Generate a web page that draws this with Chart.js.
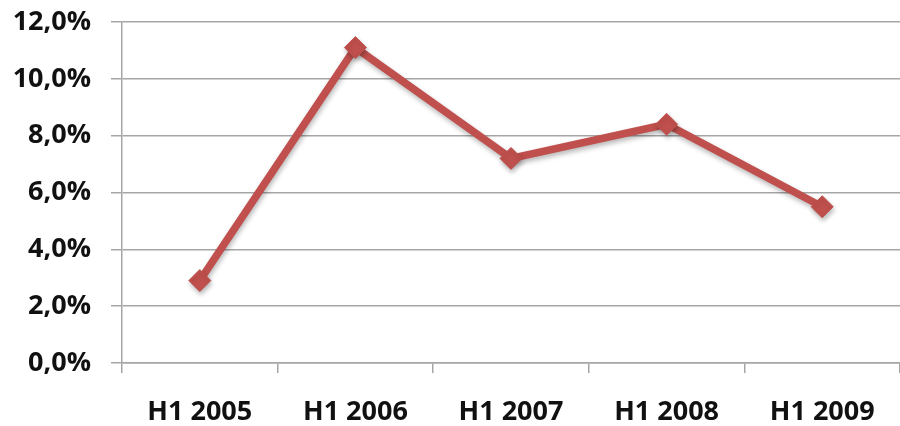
<!DOCTYPE html>
<html>
<head>
<meta charset="utf-8">
<script src="https://cdn.jsdelivr.net/npm/chart.js@4/dist/chart.umd.min.js"></script>
<style>
  html, body { margin: 0; padding: 0; background: #ffffff; overflow: hidden; }
  #wrap { width: 900px; height: 426px; position: relative; }
  canvas { display: block; }
</style>
</head>
<body>
<div id="wrap"><canvas id="chart"></canvas></div>
<script>
// Half-year growth rate, percent
const periods = ['H1 2005', 'H1 2006', 'H1 2007', 'H1 2008', 'H1 2009'];
const growthPct = [2.9, 11.1, 7.2, 8.4, 5.5];
const yMin = 0, yMax = 12, yStep = 2;

const lineRed = '#c0504d';
const gridGray = '#a6a6a6';
const labelFont = { family: '"Open Sans", "Liberation Sans", sans-serif', weight: 'bold', size: 27 };

// soft drop shadow under the series line and markers
const shadowPlugin = {
  id: 'lineShadow',
  beforeDatasetsDraw(chart) {
    const c = chart.ctx;
    c.save();
    c.shadowColor = 'rgba(0,0,0,0.28)';
    c.shadowBlur = 5;
    c.shadowOffsetX = 1;
    c.shadowOffsetY = 3;
  },
  afterDatasetsDraw(chart) {
    chart.ctx.restore();
  }
};

new Chart(document.getElementById('chart'), {
  type: 'line',
  data: {
    labels: periods,
    datasets: [{
      data: growthPct,
      borderColor: lineRed,
      backgroundColor: lineRed,
      borderWidth: 7.5,
      tension: 0,
      pointStyle: 'rectRot',
      pointRadius: 11,
      pointHoverRadius: 11,
      pointBorderWidth: 1,
      pointBorderColor: lineRed,
      pointBackgroundColor: lineRed,
      clip: false
    }]
  },
  options: {
    responsive: true,
    maintainAspectRatio: false,
    animation: false,
    layout: { autoPadding: false, padding: { top: 22, right: 0, left: 0, bottom: 0 } },
    plugins: {
      legend: { display: false },
      tooltip: { enabled: false }
    },
    scales: {
      x: {
        offset: true,
        grid: {
          offset: true,
          drawOnChartArea: false,
          drawTicks: true,
          tickLength: 10,
          color: gridGray,
          lineWidth: 1.5
        },
        border: { display: true, color: gridGray, width: 1.5 },
        ticks: {
          color: '#111111',
          font: labelFont,
          padding: 23,
          maxRotation: 0
        },
        afterFit(scale) {
          scale.height = 63;
        }
      },
      y: {
        min: yMin,
        max: yMax,
        grid: {
          color: gridGray,
          lineWidth: 1.5,
          drawTicks: true,
          tickLength: 11
        },
        border: { display: true, color: gridGray, width: 1.5 },
        ticks: {
          stepSize: yStep,
          color: '#111111',
          font: labelFont,
          padding: 20,
          callback: v => v.toFixed(1).replace('.', ',') + '%'
        },
        afterFit(scale) {
          scale.width = 122;
          scale.paddingTop = 0;
          scale.paddingBottom = 0;
        }
      }
    }
  },
  plugins: [shadowPlugin]
});
</script>
</body>
</html>
